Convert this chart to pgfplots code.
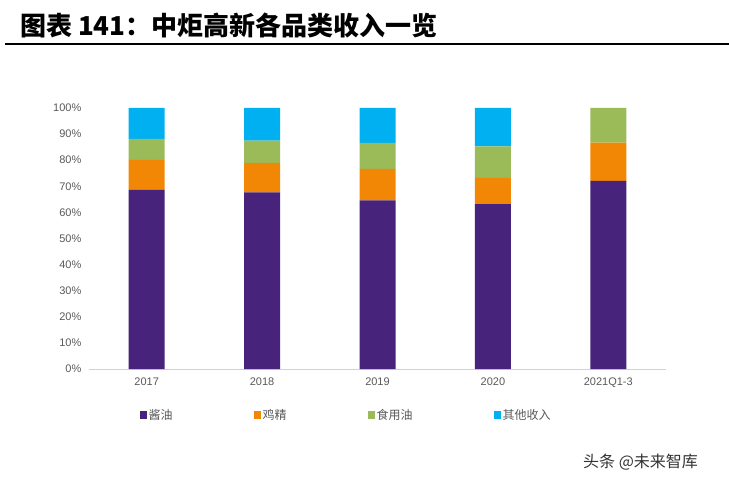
\documentclass[border=0pt]{standalone}
\usepackage{fontspec}
\setmainfont{Liberation Sans}
\newfontfamily\cjk{Noto Sans CJK SC}
\usepackage{pgfplots}
\pgfplotsset{compat=1.18}
\definecolor{cA}{HTML}{47237B}
\definecolor{cB}{HTML}{F28705}
\definecolor{cC}{HTML}{9BBB59}
\definecolor{cD}{HTML}{00B0F0}
\definecolor{tgray}{HTML}{595959}
\begin{document}
\begin{tikzpicture}
\useasboundingbox (0pt,0pt) rectangle (729pt,483pt);
\node[anchor=base west, inner sep=0pt, font=\cjk\bfseries\fontsize{26}{29}\selectfont] at (20pt,447pt) {图表 141：中炬高新各品类收入一览};
\draw[line width=2.2pt] (5pt,439pt) -- (729pt,439pt);
\begin{axis}[
  at={(89pt,114pt)}, anchor=south west,
  scale only axis, width=577pt, height=261pt,
  xmin=-0.5, xmax=4.5, ymin=0, ymax=100,
  ybar stacked, bar width=36pt,
  axis lines=left,
  x axis line style={-, draw=gray!35, line width=1pt},
  y axis line style={draw=none},
  xtick style={draw=none}, ytick style={draw=none},
  ytick={0,10,...,100},
  /pgf/number format/assume math mode=true,
  yticklabel={\pgfmathprintnumber{\tick}\%},
  xtick=data,
  xticklabels={2017,2018,2019,2020,2021Q1-3},
  tick label style={font=\fontsize{11}{13}\selectfont, text=tgray},
  yticklabel style={xshift=-2pt},
  xticklabel style={yshift=-3pt},
  legend columns=4,
  legend style={at={(axis description cs:0.082,-0.176)}, anchor=west, draw=none, fill=none,
    font=\cjk\fontsize{12}{14}\selectfont, text=tgray,
    /tikz/every even column/.append style={column sep=79pt}},
  legend image code/.code={\fill[#1] (0pt,-4pt) rectangle (7pt,4pt);},
]
\addplot[fill=cA, draw=none] coordinates {(0,68.6) (1,67.7) (2,64.6) (3,63.2) (4,72.1)};
\addplot[fill=cB, draw=none] coordinates {(0,11.5) (1,11.3) (2,12.1) (3,10.0) (4,14.6)};
\addplot[fill=cC, draw=none] coordinates {(0,8.1) (1,8.5) (2,9.9) (3,12.1) (4,13.3)};
\addplot[fill=cD, draw=none] coordinates {(0,11.8) (1,12.5) (2,13.4) (3,14.7) (4,0)};
\legend{酱油,鸡精,食用油,其他收入}
\end{axis}
\node[anchor=west, inner sep=0pt, text=black!80, font=\cjk\fontsize{16}{18}\selectfont] at (583pt,21pt) {头条 @未来智库};
\end{tikzpicture}
\end{document}
